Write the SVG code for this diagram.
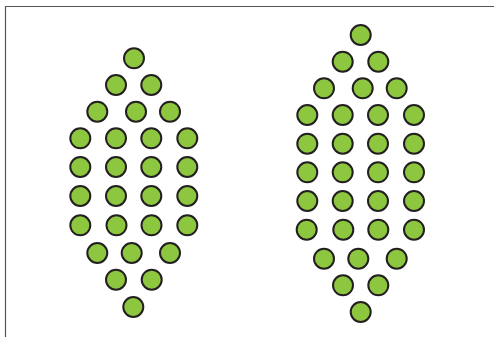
<svg xmlns="http://www.w3.org/2000/svg" width="494" height="337" viewBox="0 0 494 337">
<style>
.b{fill:#8dc63f;stroke:#231f20;stroke-width:2}
.f{fill:none;stroke:#555;stroke-width:1.2}
</style>
<rect width="494" height="337" fill="#fff"/>
<path class="f" d="M5.5 337V6.5H494"/>
<g id="left">
<circle class="b" cx="134" cy="58.3" r="10"/>
<circle class="b" cx="116" cy="85" r="10"/><circle class="b" cx="151.3" cy="85" r="10"/>
<circle class="b" cx="97.3" cy="111.7" r="10"/><circle class="b" cx="136" cy="111.7" r="10"/><circle class="b" cx="170" cy="111.7" r="10"/>
<circle class="b" cx="80.3" cy="138.3" r="10"/><circle class="b" cx="116" cy="138.3" r="10"/><circle class="b" cx="151.3" cy="138.3" r="10"/><circle class="b" cx="187.3" cy="138.3" r="10"/>
<circle class="b" cx="80.3" cy="167" r="10"/><circle class="b" cx="116" cy="167" r="10"/><circle class="b" cx="151.3" cy="167" r="10"/><circle class="b" cx="187.3" cy="167" r="10"/>
<circle class="b" cx="80.3" cy="196" r="10"/><circle class="b" cx="116" cy="196" r="10"/><circle class="b" cx="151.3" cy="196" r="10"/><circle class="b" cx="187.3" cy="196" r="10"/>
<circle class="b" cx="80.3" cy="225.3" r="10"/><circle class="b" cx="116.5" cy="225.3" r="10"/><circle class="b" cx="151.5" cy="225.3" r="10"/><circle class="b" cx="187.3" cy="225.3" r="10"/>
<circle class="b" cx="97.3" cy="253" r="10"/><circle class="b" cx="131.7" cy="253" r="10"/><circle class="b" cx="170" cy="253" r="10"/>
<circle class="b" cx="116" cy="279.7" r="10"/><circle class="b" cx="151.7" cy="279.7" r="10"/>
<circle class="b" cx="133.3" cy="307" r="10"/>
</g>
<g id="right">
<circle class="b" cx="360.7" cy="35" r="10"/>
<circle class="b" cx="342.7" cy="61.7" r="10"/><circle class="b" cx="378.3" cy="61.7" r="10"/>
<circle class="b" cx="324" cy="88.3" r="10"/><circle class="b" cx="362.7" cy="88.3" r="10"/><circle class="b" cx="396.7" cy="88.3" r="10"/>
<circle class="b" cx="307.3" cy="115" r="10"/><circle class="b" cx="342.7" cy="115" r="10"/><circle class="b" cx="378" cy="115" r="10"/><circle class="b" cx="414" cy="115" r="10"/>
<circle class="b" cx="307.3" cy="143.7" r="10"/><circle class="b" cx="342.7" cy="143.7" r="10"/><circle class="b" cx="378" cy="143.7" r="10"/><circle class="b" cx="414" cy="143.7" r="10"/>
<circle class="b" cx="307.3" cy="172.3" r="10"/><circle class="b" cx="342.7" cy="172.3" r="10"/><circle class="b" cx="378" cy="172.3" r="10"/><circle class="b" cx="414" cy="172.3" r="10"/>
<circle class="b" cx="307.3" cy="201" r="10"/><circle class="b" cx="342.7" cy="201" r="10"/><circle class="b" cx="378" cy="201" r="10"/><circle class="b" cx="414" cy="201" r="10"/>
<circle class="b" cx="306.7" cy="229.7" r="10"/><circle class="b" cx="343.3" cy="229.7" r="10"/><circle class="b" cx="378.3" cy="229.7" r="10"/><circle class="b" cx="414" cy="229.7" r="10"/>
<circle class="b" cx="324" cy="258.7" r="10"/><circle class="b" cx="358.3" cy="258.7" r="10"/><circle class="b" cx="396.7" cy="258.7" r="10"/>
<circle class="b" cx="343" cy="285.3" r="10"/><circle class="b" cx="378.3" cy="285.3" r="10"/>
<circle class="b" cx="360.7" cy="312" r="10"/>
</g>
</svg>
